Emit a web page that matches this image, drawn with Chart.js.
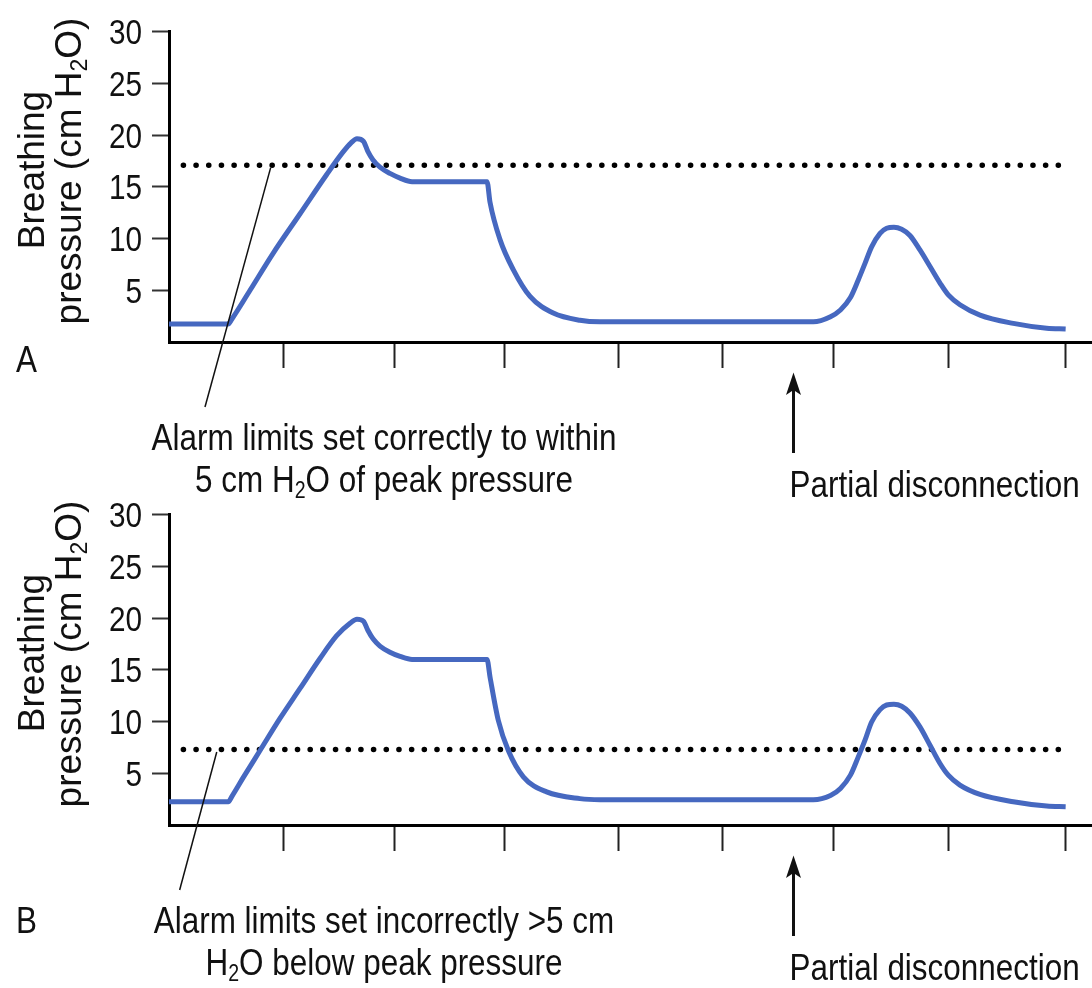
<!DOCTYPE html>
<html lang="en">
<head>
  <meta charset="UTF-8" />
  <title>Breathing pressure alarm limits</title>
  <script src="https://cdn.jsdelivr.net/npm/chart.js"></script>
  <style>
    body { margin: 0; background: #fff; }
    .figure { position: relative; width: 1092px; height: 988px; }
    .panel { position: absolute; left: 0; width: 1092px; height: 505px; }
    #panelA { top: 0; }
    #panelB { top: 483px; }
  </style>
</head>
<body>
  <div class="figure">
    <div class="panel" id="panelA"><canvas id="chartA"></canvas></div>
    <div class="panel" id="panelB"><canvas id="chartB"></canvas></div>
  </div>

  <script>
    // time axis: one tick roughly every second
    const timeA = [0, 0.529, 0.56, 0.723, 0.930, 1.169, 1.407, 1.555, 1.624, 1.677, 1.735, 1.775, 1.820, 1.882, 1.971, 2.061, 2.168,
                   2.837, 2.864, 2.953, 3.071, 3.221, 3.428, 3.666, 3.845, 5.748,
                   5.901, 5.990, 6.079, 6.149, 6.209, 6.268, 6.343, 6.402, 6.467, 6.536, 6.610, 6.699, 6.789, 6.878,
                   6.952, 7.056, 7.235, 7.532, 7.830, 7.999];
    const pressureA = [1.75, 1.75, 2.2, 5.0, 8.6, 12.4, 16.2, 18.4, 19.25, 19.65, 19.4, 18.4, 17.6, 16.9, 16.3, 15.85, 15.5,
                       15.5, 13.5, 9.9, 7.0, 4.4, 2.8, 2.1, 1.95, 1.95,
                       2.45, 3.1, 4.3, 6.0, 7.6, 9.2, 10.5, 11.0, 11.1, 10.9, 10.3, 8.9, 7.3, 5.7,
                       4.55, 3.6, 2.6, 1.8, 1.33, 1.26];

    const timeB = [0, 0.529, 0.56, 0.663, 0.812, 0.990, 1.169, 1.347, 1.496, 1.615, 1.677, 1.735, 1.775, 1.820, 1.882, 1.971, 2.061, 2.168,
                   2.837, 2.864, 2.938, 3.027, 3.161, 3.369, 3.666, 3.845, 5.748,
                   5.901, 5.990, 6.079, 6.149, 6.209, 6.268, 6.343, 6.402, 6.467, 6.536, 6.610, 6.699, 6.789, 6.878,
                   6.952, 7.056, 7.235, 7.532, 7.830, 7.999];
    const pressureB = [2.25, 2.25, 2.75, 4.6, 7.2, 10.3, 13.2, 16.1, 18.3, 19.5, 19.9, 19.7, 18.8, 18.0, 17.3, 16.7, 16.3, 16.0,
                       16.0, 14.3, 10.1, 7.2, 4.66, 3.2, 2.55, 2.45, 2.45,
                       2.86, 3.54, 4.82, 6.59, 8.2, 9.96, 11.15, 11.6, 11.67, 11.48, 10.83, 9.48, 7.71, 5.95,
                       4.82, 3.86, 2.96, 2.25, 1.83, 1.77];

    const alarmA = 17.1;   // alarm limit, panel A
    const alarmB = 7.3;    // alarm limit, panel B
    const alarmSpan = [0.128, 8.046];

    const tickTimes = [1.02, 2.01, 2.99, 4.01, 4.94, 5.93, 6.95, 8.0];
    const pressureTicks = [5, 10, 15, 20, 25, 30];
    const disconnectAt = 5.57;

    const titleLines = ['Breathing', 'pressure (cm H_2O)'];
    const noteA = ['Alarm limits set correctly to within', '5 cm H_2O of peak pressure'];
    const noteB = ['Alarm limits set incorrectly >5 cm', 'H_2O below peak pressure'];
    const arrowLabel = 'Partial disconnection';

    const FONT = '"Liberation Sans", Arial, Helvetica, sans-serif';
    const SQUEEZE = 0.85;   // the figure's lettering is condensed

    // split "H_2O" into normal / subscript runs
    function runs(str) {
      return str.split(/_(\d)/).map((t, i) => ({ t, sub: i % 2 === 1 }));
    }

    function drawRich(ctx, str, x, y, size, align, sx) {
      const main = size + 'px ' + FONT;
      const sub = Math.round(size * 0.62) + 'px ' + FONT;
      const parts = runs(str);
      let w = 0;
      parts.forEach(p => { ctx.font = p.sub ? sub : main; w += ctx.measureText(p.t).width; });
      let start = 0;
      if (align === 'center') start = -w / 2;
      if (align === 'right') start = -w;
      ctx.save();
      ctx.translate(x, y);
      ctx.scale(sx, 1);
      ctx.textAlign = 'left';
      ctx.textBaseline = 'alphabetic';
      let cx = start;
      parts.forEach(p => {
        ctx.font = p.sub ? sub : main;
        ctx.fillText(p.t, cx, p.sub ? size * 0.17 : 0);
        cx += ctx.measureText(p.t).width;
      });
      ctx.restore();
    }

    const annotations = {
      id: 'annotations',
      afterDraw(chart, args, o) {
        const { ctx, chartArea } = chart;
        const xs = chart.scales.x, ys = chart.scales.y;
        const bottom = chartArea.bottom;
        ctx.save();
        ctx.fillStyle = '#111';
        ctx.strokeStyle = '#111';

        // y tick labels, placed by the y scale
        ys.ticks.forEach(tk => {
          drawRich(ctx, String(tk.value), chartArea.left - 27, ys.getPixelForValue(tk.value) + 12.5, 35, 'right', SQUEEZE);
        });

        // y axis title, two rotated lines
        ctx.save();
        ctx.translate(44, 170);
        ctx.rotate(-Math.PI / 2);
        drawRich(ctx, titleLines[0], 0, 0, 37, 'center', 1);
        ctx.restore();
        ctx.save();
        ctx.translate(81, 171);
        ctx.rotate(-Math.PI / 2);
        drawRich(ctx, titleLines[1], 0, 0, 37, 'center', 1);
        ctx.restore();

        // panel letter
        drawRich(ctx, o.letter, 16, bottom + o.letterDrop, 37, 'left', SQUEEZE);

        // leader line from the alarm line to the note
        ctx.lineWidth = 1.5;
        ctx.beginPath();
        ctx.moveTo(xs.getPixelForValue(o.leaderTop), ys.getPixelForValue(o.alarm) + 2.5);
        ctx.lineTo(xs.getPixelForValue(o.leaderEnd), bottom + 65);
        ctx.stroke();

        // note text
        o.note.forEach((line, i) => {
          drawRich(ctx, line, 384, bottom + 108 + i * 41.7, 37, 'center', SQUEEZE);
        });

        // arrow marking the disconnection
        const ax = Math.round(xs.getPixelForValue(disconnectAt)) + 0.5;
        ctx.lineWidth = 3;
        ctx.beginPath();
        ctx.moveTo(ax, bottom + 48);
        ctx.lineTo(ax, bottom + 111);
        ctx.stroke();
        ctx.beginPath();
        ctx.moveTo(ax, bottom + 30.5);
        ctx.lineTo(ax + 7.5, bottom + 53);
        ctx.lineTo(ax, bottom + 48);
        ctx.lineTo(ax - 7.5, bottom + 53);
        ctx.closePath();
        ctx.fill();
        drawRich(ctx, arrowLabel, ax - 4, bottom + 154.7, 37, 'left', SQUEEZE);

        ctx.restore();
      }
    };

    function makeChart(id, times, pressures, alarm, opts) {
      return new Chart(document.getElementById(id), {
        type: 'line',
        data: {
          datasets: [
            {
              data: times.map((t, i) => ({ x: t, y: pressures[i] })),
              borderColor: '#4668c0',
              borderWidth: 5,
              pointRadius: 0,
              cubicInterpolationMode: 'monotone',
              borderJoinStyle: 'round'
            },
            {
              data: alarmSpan.map(t => ({ x: t, y: alarm })),
              borderColor: '#000',
              borderWidth: 5.5,
              borderDash: [0.1, 12.58],
              borderCapStyle: 'round',
              pointRadius: 0
            }
          ]
        },
        options: {
          responsive: true,
          maintainAspectRatio: false,
          animation: false,
          events: [],
          layout: { padding: { top: 31.7, left: 0, right: 0, bottom: 137 } },
          plugins: {
            legend: { display: false },
            tooltip: { enabled: false },
            annotations: opts
          },
          scales: {
            x: {
              type: 'linear',
              min: 0,
              max: 8.234,
              afterBuildTicks: s => { s.ticks = tickTimes.map(v => ({ value: v })); },
              afterFit: s => { s.height = 26; },
              ticks: { display: false },
              grid: { drawOnChartArea: false, tickLength: 26, tickWidth: 2, tickColor: '#222' },
              border: { display: true, width: 3, color: '#000' }
            },
            y: {
              min: 0,
              max: 30,
              afterBuildTicks: s => { s.ticks = pressureTicks.map(v => ({ value: v })); },
              afterFit: s => { s.width = 169; },
              ticks: { display: false },
              grid: { drawOnChartArea: false, tickLength: 17, tickWidth: 2, tickColor: '#333' },
              border: { display: true, width: 3, color: '#000' }
            }
          }
        },
        plugins: [annotations]
      });
    }

    makeChart('chartA', timeA, pressureA, alarmA,
      { letter: 'A', letterDrop: 29.7, alarm: alarmA, leaderTop: 0.907, leaderEnd: 0.321, note: noteA });
    makeChart('chartB', timeB, pressureB, alarmB,
      { letter: 'B', letterDrop: 108, alarm: alarmB, leaderTop: 0.426, leaderEnd: 0.095, note: noteB });
  </script>
</body>
</html>
